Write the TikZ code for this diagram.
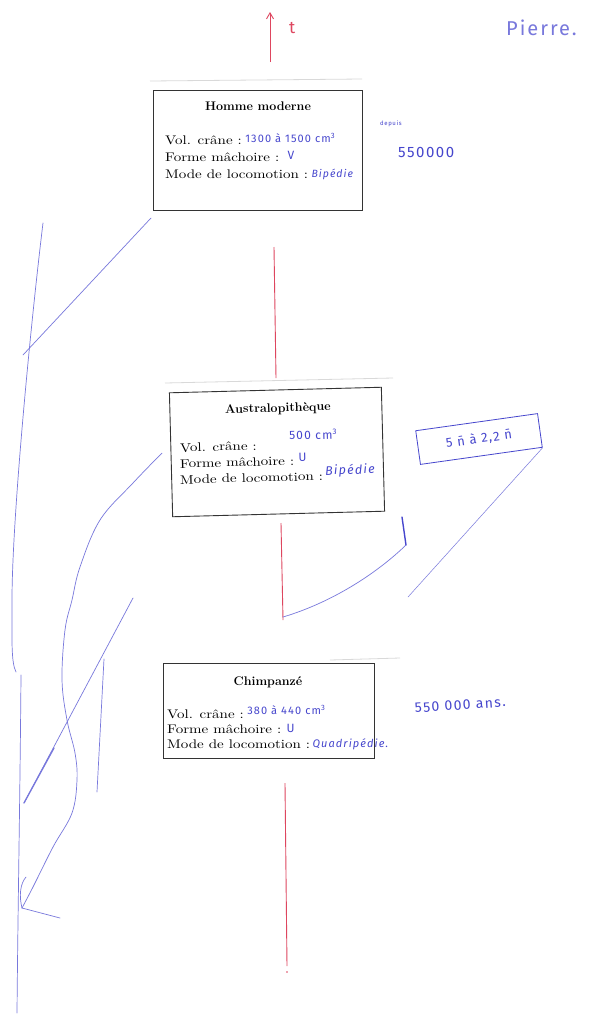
\documentclass[tikz,border=0pt]{standalone}
\usepackage{fontspec}
\newfontfamily\boxfont{lmroman10-regular}[Extension=.otf,FakeStretch=1.2]
\newfontfamily\hand{Fira Sans}[LetterSpace=10]
\usetikzlibrary{arrows.meta}
\definecolor{ink}{RGB}{70,70,205}
\definecolor{inklight}{RGB}{120,120,220}
\definecolor{redink}{RGB}{222,70,95}
\begin{document}
\begin{tikzpicture}[x=1pt,y=-1pt,
  box/.style={draw=black!80, line width=0.9pt, inner sep=0pt},
  ttl/.style={font=\bfseries\fontsize{12.5}{14}\selectfont, anchor=base, inner sep=0pt},
  lbl/.style={font=\boxfont\fontsize{12.5}{14}\selectfont, anchor=base west, inner sep=0pt},
  hw/.style={text=ink, font=\hand\fontsize{10.5}{12}\selectfont, anchor=base west, inner sep=0pt},
  redl/.style={draw=redink, line width=0.9pt},
  pen/.style={draw=inklight, line width=0.7pt, line cap=round, line join=round},
  faint/.style={draw=black!15, line width=0.8pt}]
\useasboundingbox (0,0) rectangle (610,1018);
\fill[white] (0,0) rectangle (610,1018);

% faint scan lines
\coordinate (f1a) at (150,81); \coordinate (f1b) at (362,79);
\coordinate (f2a) at (165,383); \coordinate (f2b) at (393,378);
\coordinate (f3a) at (330,660); \coordinate (f3b) at (400,658);
\draw[faint] (f1a) -- (f1b);
\draw[faint] (f2a) -- (f2b);
\draw[faint] (f3a) -- (f3b);

% ---------- boxes ----------
\node[box, minimum width=209, minimum height=120] (b1) at (257.5,150) {};
\node[ttl] (b1t) at (258,110) {Homme moderne};
\node[lbl] (b1v) at (165,144) {Vol. crâne :};
\node[lbl] (b1f) at (165,161) {Forme mâchoire :};
\node[lbl] (b1m) at (165,178) {Mode de locomotion :};

\node[box, minimum width=212, minimum height=124, rotate=1.5] (b2) at (277,452) {};
\node[ttl, rotate=1.5] (b2t) at (278,412) {Australopithèque};
\node[lbl, rotate=1.5] (b2v) at (180,452) {Vol. crâne :};
\node[lbl, rotate=1.5] (b2f) at (180,468) {Forme mâchoire :};
\node[lbl, rotate=1.5] (b2m) at (180,484) {Mode de locomotion :};

\node[box, minimum width=211, minimum height=95] (b3) at (269,710.5) {};
\node[ttl] (b3t) at (268,685) {Chimpanzé};
\node[lbl] (b3v) at (167,718) {Vol. crâne :};
\node[lbl] (b3f) at (167,733) {Forme mâchoire :};
\node[lbl] (b3m) at (167,748) {Mode de locomotion :};

% ---------- red time axis ----------
\coordinate (ta) at (270,62); \coordinate (tb) at (270,12);
\draw[redl, -{Straight Barb[length=6pt,width=7pt]}] (ta) -- (tb);
\node[text=redink, font=\hand\fontsize{17}{18}\selectfont, anchor=base west, inner sep=0pt] (tl) at (289,33) {t};
\coordinate (r1a) at (274,247); \coordinate (r1b) at (276,378);
\coordinate (r2a) at (281,523); \coordinate (r2b) at (283,620);
\coordinate (r3a) at (285,783); \coordinate (r3b) at (287,966);
\draw[redl] (r1a) -- (r1b);
\draw[redl] (r2a) -- (r2b);
\draw[redl] (r3a) -- (r3b);
\fill[redink] (287,972) circle (0.8);

% ---------- handwriting ----------
\node[hw, font=\hand\fontsize{20}{22}\selectfont, text=inklight] (name) at (506,35) {Pierre.};

\node[hw, font=\hand\fontsize{11}{12}\selectfont] (h1v) at ([xshift=3pt,yshift=2pt]b1v.base east) {1300 à 1500 cm\textsuperscript{3}};
\node[hw, font=\hand\fontsize{12}{13}\selectfont] (h1f) at ([xshift=8pt,yshift=2pt]b1f.base east) {V};
\node[hw, font=\hand\itshape\fontsize{10.5}{12}\selectfont] (h1m) at ([xshift=3pt,yshift=1pt]b1m.base east) {Bipédie};
\node[hw, font=\hand\fontsize{6}{7}\selectfont] (dep) at (380,125) {depuis};
\node[hw, font=\hand\fontsize{15}{16}\selectfont] (d1) at (398,157) {550000};

\node[hw, font=\hand\fontsize{12}{13}\selectfont, rotate=1.5] (h2v) at ([xshift=32pt,yshift=10pt]b2v.base east) {500 cm\textsuperscript{3}};
\node[hw, font=\hand\fontsize{12}{13}\selectfont, rotate=1.5] (h2f) at ([xshift=4pt,yshift=4pt]b2f.base east) {U};
\node[hw, font=\hand\itshape\fontsize{12.5}{14}\selectfont, rotate=2] (h2m) at ([xshift=2pt,yshift=5pt]b2m.base east) {Bipédie};

\node[hw, draw=ink, line width=0.8pt, anchor=center, inner sep=4pt, rotate=8,
      minimum width=123, minimum height=34, font=\hand\fontsize{13}{14}\selectfont] (fr) at (479,439) {5 n̄ à 2,2 n̄};

\node[hw, font=\hand\fontsize{11}{12}\selectfont] (h3v) at ([xshift=3pt,yshift=4pt]b3v.base east) {380 à 440 cm\textsuperscript{3}};
\node[hw, font=\hand\fontsize{12}{13}\selectfont] (h3f) at ([xshift=5pt,yshift=1pt]b3f.base east) {U};
\node[hw, font=\hand\itshape\fontsize{11}{12}\selectfont] (h3m) at ([xshift=2pt,yshift=1pt]b3m.base east) {Quadripédie.};
\node[hw, font=\hand\fontsize{14}{15}\selectfont, rotate=4] (d3) at (415,713) {550 000 ans.};

% ---------- connectors (blue pen) ----------
\coordinate (fe) at (408,597);
\draw[pen, line width=0.5pt] (fr.south east) -- (fe);
\coordinate (c1) at (283,617); \coordinate (k1) at (406,545); \coordinate (k2) at (402,517);
\draw[pen] (c1) .. controls (330,603) and (375,575) .. (k1);
\draw[draw=ink, line width=1.4pt, line cap=round] (k1) -- (k2);

% ---------- left side strokes ----------
\coordinate (L1a) at (43,223); \coordinate (L1b) at (16,672);
\draw[pen] (L1a) .. controls (30,330) and (12,520) .. (12,600) .. controls (12,640) and (11,662) .. (L1b);
\coordinate (L2a) at (21,675); \coordinate (L2b) at (17,1013);
\draw[pen] (L2a) .. controls (20,800) and (18,900) .. (L2b);
\coordinate (D1a) at (151,218); \coordinate (D1b) at (23,355);
\draw[pen] (D1a) -- (D1b);
\coordinate (C1a) at (162,453); \coordinate (C1b) at (22,908);
\draw[pen] plot[smooth, tension=0.6] coordinates {(162,453) (133,483) (100,520) (80,567) (72,600) (65,630) (62,680) (67,720) (75,753) (77,780) (72,813) (53,847) (33,887) (22,908)};
\coordinate (ah1) at (60,918);
\draw[pen] (C1b) -- (ah1);
\draw[pen] (C1b) .. controls (19,896) and (20,884) .. (26,877);
\coordinate (D2a) at (133,598); \coordinate (D2b) at (24,803);
\draw[pen] (D2a) -- (D2b);
\coordinate (D2c) at (54,748);
\draw[pen, line width=1.3pt] (D2c) -- (D2b);
\coordinate (V1a) at (104,659); \coordinate (V1b) at (97,792);
\draw[pen] (V1a) -- (V1b);
\end{tikzpicture}
\end{document}
